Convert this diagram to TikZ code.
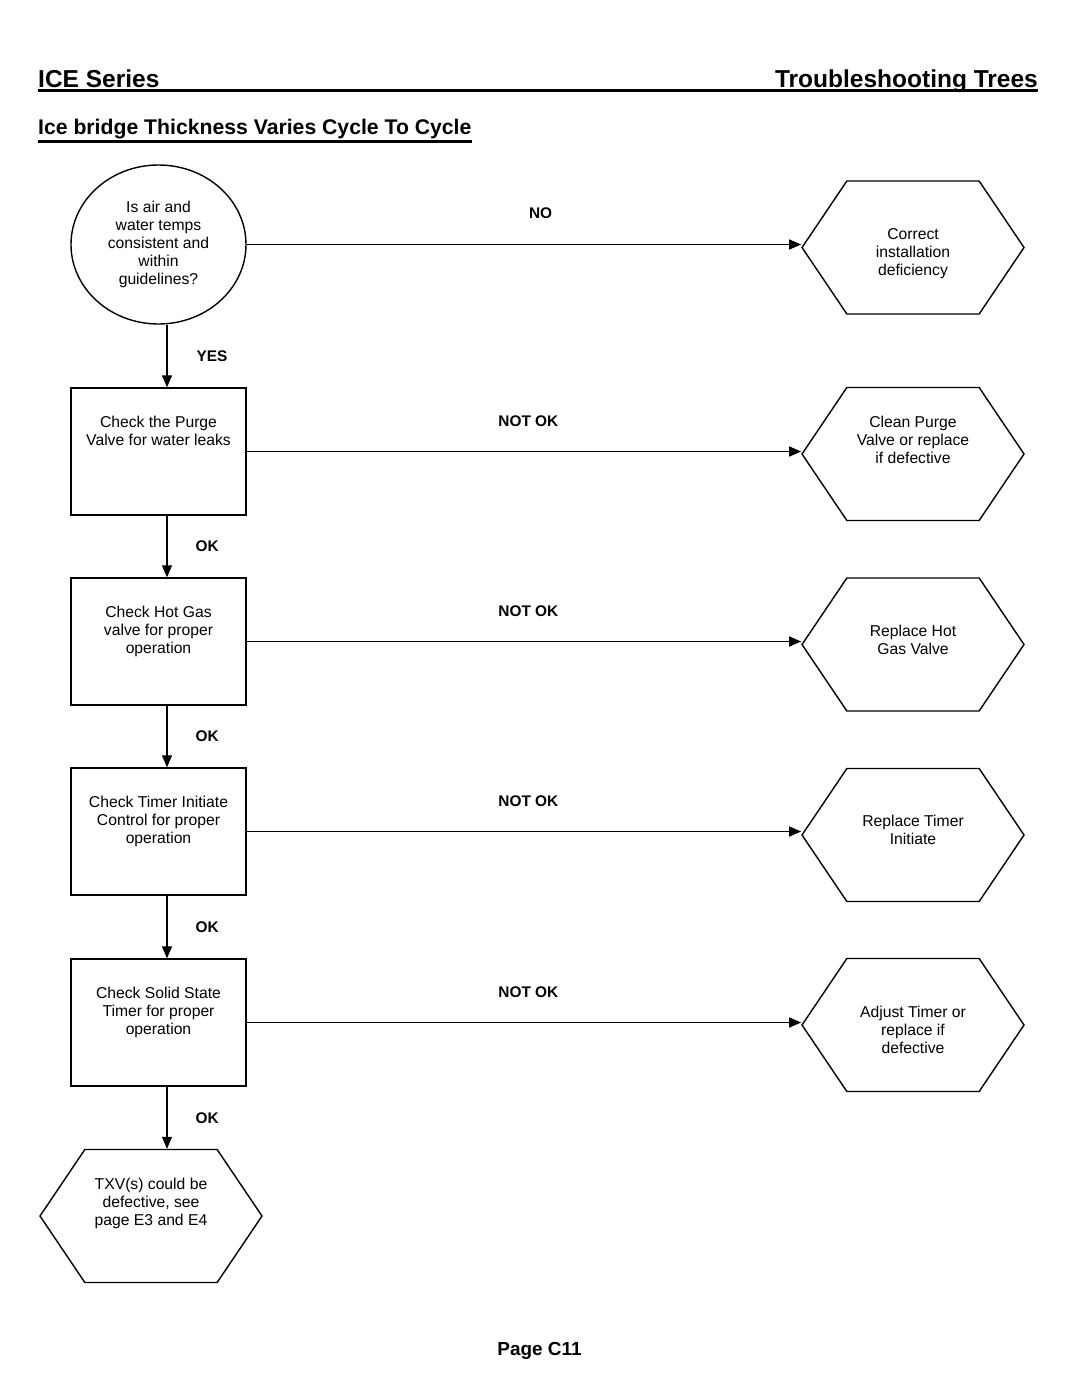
\documentclass[tikz,border=0pt]{standalone}
\usepackage{fontspec}
\setmainfont{Liberation Sans}
\usepackage{tikz}
\usetikzlibrary{shapes,arrows.meta}
\newcommand{\boxlines}[1]{\parbox[c][127pt][t]{172pt}{\centering\rule{0pt}{39.5pt}#1}}
\newcommand{\hexlines}[2][58.5pt]{\parbox[c][133pt][t]{128pt}{\centering\rule{0pt}{#1}#2}}
\tikzstyle{question} = [draw, ellipse, line width=1.4pt, minimum width=175pt, minimum height=159pt,
    inner sep=0pt, align=center, font=\fontsize{15.7}{18}\selectfont]
\tikzstyle{block} = [rectangle, draw, line width=1.4pt, minimum width=175pt, minimum height=127pt,
    inner sep=0pt, font=\fontsize{15.7}{18.2}\selectfont]
\tikzstyle{action} = [draw, signal, signal to=east and west, signal pointer angle=112, line width=1.4pt,
    minimum width=222pt, minimum height=133pt, inner sep=0pt, font=\fontsize{15.7}{18.2}\selectfont]
\tikzstyle{answer} = [inner sep=0pt, font=\bfseries\fontsize{15.4}{18}\selectfont]
\tikzstyle{line} = [draw, line width=1.3pt, -{Triangle[length=12pt,width=10pt]}]

\begin{document}
\begin{tikzpicture}[x=1pt, y=-1pt]
    \useasboundingbox (0,0) rectangle (1080,1397);
    % Headings
    \node [anchor=base west, inner sep=0pt, font=\bfseries\fontsize{24.5}{28}\selectfont] (series) at (38,88) {ICE Series};
    \node [anchor=base east, inner sep=0pt, font=\bfseries\fontsize{24.5}{28}\selectfont] (trees) at (1038,88) {Troubleshooting Trees};
    \draw [line width=2.2pt] ([yshift=-2.5pt]series.base west) -- ([yshift=-2.5pt]trees.base east);
    \node [anchor=base west, inner sep=0pt, font=\bfseries\fontsize{21.2}{25}\selectfont] (title) at (38,134.5) {Ice bridge Thickness Varies Cycle To Cycle};
    \draw [line width=2.3pt] ([yshift=-7pt]title.base west) -- ([yshift=-7pt]title.base east);

    % Place nodes
    \node [question] (temps) at (158.5,244.5) {Is air and\\water temps\\consistent and\\within\\guidelines?};
    \node [block] (purge) at (158.5,451.5) {\boxlines{Check the Purge\\Valve for water leaks}};
    \node [block] (hotgas) at (158.5,641.5) {\boxlines{Check Hot Gas\\valve for proper\\operation}};
    \node [block] (timer) at (158.5,831.5) {\boxlines{Check Timer Initiate\\Control for proper\\operation}};
    \node [block] (solid) at (158.5,1022.5) {\boxlines{Check Solid State\\Timer for proper\\operation}};
    \node [action] (txv) at (151,1216) {\hexlines[40pt]{TXV(s) could be\\defective, see\\page E3 and E4}};
    \node [action] (install) at (913,247.5) {\hexlines{Correct\\installation\\deficiency}};
    \node [action] (cleanPurge) at (913,454) {\hexlines[40pt]{Clean Purge\\Valve or replace\\if defective}};
    \node [action] (replaceGas) at (913,644.5) {\hexlines{Replace Hot\\Gas Valve}};
    \node [action] (replaceTimer) at (913,835) {\hexlines[58pt]{Replace Timer\\Initiate}};
    \node [action] (adjustTimer) at (913,1025) {\hexlines[59pt]{Adjust Timer or\\replace if\\defective}};
    \node [anchor=base, inner sep=0pt, font=\bfseries\fontsize{18.9}{22}\selectfont] (page) at (539.5,1355) {Page C11};

    % Draw edges
    \path [line] (temps.east) -- node [answer, above=25pt, pos=0.53] {NO} (temps.east -| install.west);
    \path [line] (purge.east) -- node [answer, above=24pt, pos=0.508] {NOT OK} (purge.east -| cleanPurge.west);
    \path [line] (hotgas.east) -- node [answer, above=24pt, pos=0.508] {NOT OK} (hotgas.east -| replaceGas.west);
    \path [line] (timer.east) -- node [answer, above=24pt, pos=0.508] {NOT OK} (timer.east -| replaceTimer.west);
    \path [line] (solid.east) -- node [answer, above=24pt, pos=0.508] {NOT OK} (solid.east -| adjustTimer.west);
    \path [line] ([xshift=8.5pt]temps.south) -- node [answer, right=29pt] {YES} ([xshift=8.5pt]purge.north);
    \path [line] ([xshift=8.5pt]purge.south) -- node [answer, right=28pt] {OK} ([xshift=8.5pt]hotgas.north);
    \path [line] ([xshift=8.5pt]hotgas.south) -- node [answer, right=28pt] {OK} ([xshift=8.5pt]timer.north);
    \path [line] ([xshift=8.5pt]timer.south) -- node [answer, right=28pt] {OK} ([xshift=8.5pt]solid.north);
    \path [line] ([xshift=8.5pt]solid.south) -- node [answer, right=28pt] {OK} ([xshift=16pt]txv.north);
\end{tikzpicture}
\end{document}
